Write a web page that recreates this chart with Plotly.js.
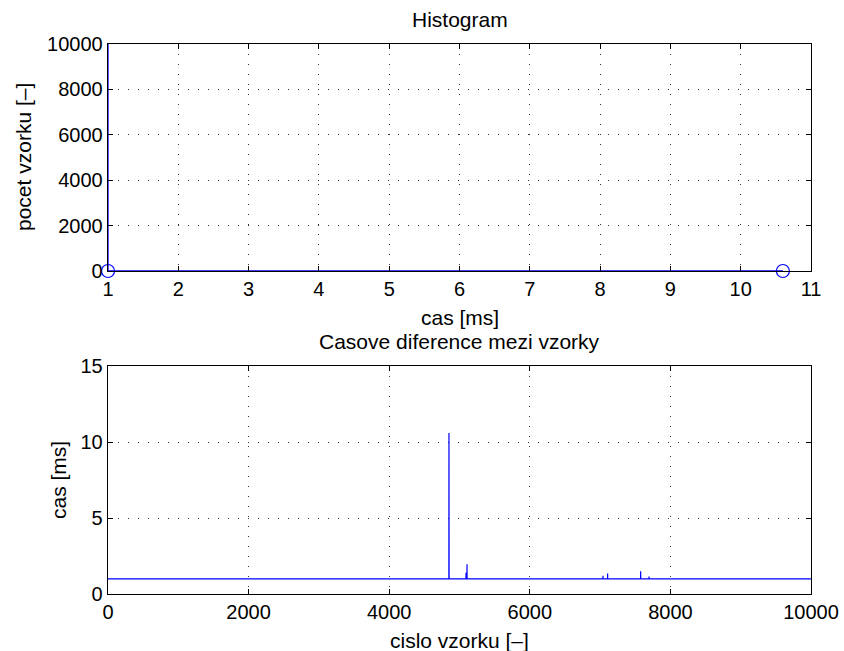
<!DOCTYPE html>
<html>
<head>
<meta charset="utf-8">
<script src="https://cdn.plot.ly/plotly-3.0.1.min.js"></script>
<style>body{margin:0;background:#fff}#c{width:844px;height:651px}</style>
</head>
<body>
<div id="c"></div>
<script>
// Histogram (top): stem line and markers
const histLineX = [1.0, 1.0, 10.6];
const histLineY = [10000, 0, 0];
const histMarkX = [1.0, 10.6];
const histMarkY = [0, 0];

// Time differences (bottom): sample index vs time [ms]
const sampleIdx = [0, 4849, 4850, 4851, 4852, 5092, 5093, 5094, 5106, 5107, 5108, 7040, 7041, 7042, 7106, 7107, 7108, 7576, 7577, 7578, 7695, 7696, 7697, 10000];
const diffMs    = [1.0, 1.0, 10.6, 1.0, 1.0, 1.0, 1.4, 1.0, 1.0, 1.95, 1.0, 1.0, 1.2, 1.0, 1.0, 1.35, 1.0, 1.0, 1.5, 1.0, 1.0, 1.15, 1.0, 1.0];

const topXTicks = [1,2,3,4,5,6,7,8,9,10,11];
const topYTicks = [0,2000,4000,6000,8000,10000];
const botXTicks = [0,2000,4000,6000,8000,10000];
const botYTicks = [0,5,10,15];

const blue = '#0000ff';
const fam = 'Liberation Sans, Arial, Helvetica, sans-serif';
const tickFont = {family: fam, size: 20, color: '#000'};
const labFont = {family: fam, size: 21, color: '#000'};

const traces = [
  {x: histLineX, y: histLineY, xaxis: 'x', yaxis: 'y', mode: 'lines', line: {color: blue, width: 1.3}},
  {x: histMarkX, y: histMarkY, xaxis: 'x', yaxis: 'y', mode: 'markers', marker: {symbol: 'circle-open', size: 13, color: blue, line: {width: 1.2, color: blue}}, cliponaxis: false},
  {x: sampleIdx, y: diffMs, xaxis: 'x2', yaxis: 'y2', mode: 'lines', line: {color: blue, width: 1.2}}
];

function ax(extra) {
  return Object.assign({
    showline: true, mirror: 'ticks', linecolor: '#000', linewidth: 1.3,
    ticks: 'inside', ticklen: 5, tickcolor: '#000',
    showgrid: true, gridcolor: '#333', griddash: '1px,9px', gridwidth: 1,
    zeroline: false, tickfont: tickFont, automargin: false
  }, extra);
}

// plot area: left 108, top 44, width 703, height 550
const layout = {
  width: 844, height: 651,
  margin: {l: 108, r: 33, t: 44, b: 57},
  paper_bgcolor: '#fff', plot_bgcolor: '#fff',
  showlegend: false, font: labFont,
  xaxis: ax({domain: [0, 1], anchor: 'y', range: [1, 11], tickvals: topXTicks, ticktext: topXTicks.map(String)}),
  yaxis: ax({domain: [0.5873, 1], anchor: 'x', range: [0, 10000], tickvals: topYTicks, ticktext: topYTicks.map(String)}),
  xaxis2: ax({domain: [0, 1], anchor: 'y2', range: [0, 10000], tickvals: botXTicks, ticktext: botXTicks.map(String)}),
  yaxis2: ax({domain: [0, 0.4145], anchor: 'x2', range: [0, 15], tickvals: botYTicks, ticktext: botYTicks.map(String)}),
  annotations: [
    {text: 'Histogram', xref: 'paper', yref: 'paper', x: 0.5, y: 1 + 25/550, xanchor: 'center', yanchor: 'middle', showarrow: false, font: labFont},
    {text: 'cas [ms]', xref: 'paper', yref: 'paper', x: 0.5, y: 1 - 273/550, xanchor: 'center', yanchor: 'middle', showarrow: false, font: labFont},
    {text: 'Casove diference mezi vzorky', xref: 'paper', yref: 'paper', x: 0.5, y: 1 - 297/550, xanchor: 'center', yanchor: 'middle', showarrow: false, font: labFont},
    {text: 'cislo vzorku [\u2013]', xref: 'paper', yref: 'paper', x: 0.5, y: 1 - 596/550, xanchor: 'center', yanchor: 'middle', showarrow: false, font: labFont},
    {text: 'pocet vzorku [\u2013]', xref: 'paper', yref: 'paper', x: (23-108)/703, y: 1 - 113/550, xanchor: 'center', yanchor: 'middle', textangle: -90, showarrow: false, font: labFont},
    {text: 'cas [ms]', xref: 'paper', yref: 'paper', x: (58-108)/703, y: 1 - 436/550, xanchor: 'center', yanchor: 'middle', textangle: -90, showarrow: false, font: labFont}
  ]
};

Plotly.newPlot('c', traces, layout, {displayModeBar: false, staticPlot: true});
</script>
</body>
</html>
